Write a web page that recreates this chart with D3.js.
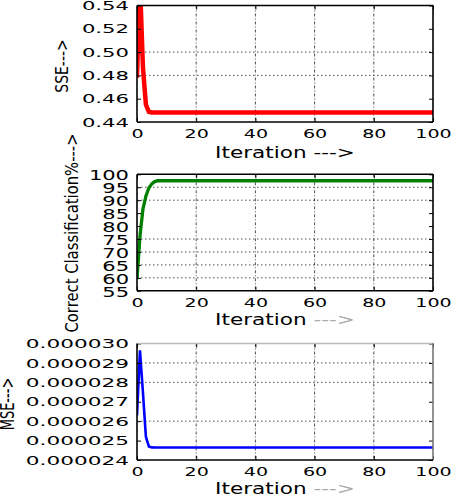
<!DOCTYPE html>
<html><head><meta charset="utf-8">
<script src="https://cdn.jsdelivr.net/npm/d3@7"></script>
<style>body{margin:0;background:#fff}svg{display:block}</style>
</head><body>
<svg id="c" width="452" height="494"></svg>
<script>
// ---- data ----
const xTicks = [0, 20, 40, 60, 80, 100];

const sseIter = [0, 1, 2, 3, 4, 5, 100];
const sseVals = [0.478, 0.56, 0.487, 0.455, 0.4488, 0.4482, 0.4482];
const sseTicks = [0.44, 0.46, 0.48, 0.50, 0.52, 0.54];
const sseGrid = [0.48, 0.50];

const ccIter = [0, 1, 2, 3, 4, 5, 6, 7, 100];
const ccVals = [59.5, 76, 86.5, 91.5, 94.7, 96.3, 97.2, 97.5, 97.5];
const ccTicks = [55, 60, 65, 70, 75, 80, 85, 90, 95, 100];
const ccGrid = [60, 65, 70, 75, 90, 95];

const mseIter = [0, 1, 2, 3, 4, 5, 6, 100];
const mseVals = [0.0000263, 0.00002965, 0.0000275, 0.0000252, 0.0000247, 0.00002465, 0.00002464, 0.00002464];
const mseTicks = [0.000024, 0.000025, 0.000026, 0.000027, 0.000028, 0.000029, 0.000030];
const mseGrid = [0.000026, 0.000028, 0.000029];

const panels = [
  {iter: sseIter, vals: sseVals, ticks: sseTicks, grid: sseGrid, dom: [0.44, 0.54], fmt: d3.format(".2f"),
   top: 5.5, color: "#ff0000", lw: 4.5, ylab: "SSE--->", ylabX: 62, ylabY: 66, ylabFs: 14, ylabSx: 1.3,
   yFs: 11.5, ySx: 1.84, xFs: 12.3, xSx: 1.55, titleY: 152, dashCol: "#000", frameTop: "#000", frameRight: "#000"},
  {iter: ccIter, vals: ccVals, ticks: ccTicks, grid: ccGrid, dom: [55, 100], fmt: d3.format("d"),
   top: 174.3, color: "#008000", lw: 3.3, ylab: "Correct Classification%--->", ylabX: 71.5, ylabY: 233, ylabFs: 14.8, ylabSx: 1.25,
   yFs: 14.5, ySx: 1.45, xFs: 12.3, xSx: 1.55, titleY: 319, dashCol: "#aaa", frameTop: "#000", frameRight: "#000"},
  {iter: mseIter, vals: mseVals, ticks: mseTicks, grid: mseGrid, dom: [0.000024, 0.000030], fmt: d3.format(".6f"),
   top: 343.5, color: "#0000ff", lw: 2.6, ylab: "MSE--->", ylabX: 7.5, ylabY: 404, ylabFs: 13, ylabSx: 1.45,
   yFs: 12.3, ySx: 1.76, xFs: 12.3, xSx: 1.55, titleY: 488, dashCol: "#aaa", frameTop: "#bbb", frameRight: "#777"}
];

const svg = d3.select("#c");
const FONT = "DejaVu Sans";
const L = 137, R = 433, H = 116.5;
const x = d3.scaleLinear().domain([0, 100]).range([L, R]);

function stretch(sel, sx, fs) {
  sel.selectAll("text").attr("font-size", fs).attr("font-family", FONT).attr("fill", "#000")
    .each(function () {
      const t = d3.select(this);
      const tx = +t.attr("x") || 0, ty = +t.attr("y") || 0;
      t.attr("x", 0).attr("y", 0).attr("transform", `translate(${tx},${ty}) scale(${sx},1)`);
    });
}

panels.forEach((p, i) => {
  const top = p.top, bot = p.top + H;
  const y = d3.scaleLinear().domain(p.dom).range([bot, top]);
  const g = svg.append("g");

  // clip
  const cid = "clip" + i;
  svg.append("clipPath").attr("id", cid).append("rect").attr("x", L).attr("y", top).attr("width", R - L).attr("height", H);

  // grid
  g.selectAll(".gy").data(p.grid).join("line")
    .attr("x1", L).attr("x2", R).attr("y1", d => y(d)).attr("y2", d => y(d))
    .attr("stroke", "#222").attr("stroke-width", 0.8).attr("stroke-dasharray", "1.5,2.5");
  g.selectAll(".gx").data(xTicks.slice(1, -1)).join("line")
    .attr("x1", d => x(d)).attr("x2", d => x(d)).attr("y1", top).attr("y2", bot)
    .attr("stroke", "#222").attr("stroke-width", 0.8).attr("stroke-dasharray", "3,2,1,2");

  // line
  const pts = p.iter.map((it, k) => [it, p.vals[k]]);
  g.append("path").datum(pts).attr("clip-path", `url(#${cid})`)
    .attr("fill", "none").attr("stroke", p.color).attr("stroke-width", p.lw)
    .attr("stroke-linejoin", "miter")
    .attr("d", d3.line().x(d => x(d[0])).y(d => y(d[1])));

  // axes (inward ticks)
  const ax = g.append("g").attr("transform", `translate(${L},0)`)
    .call(d3.axisLeft(y).tickValues(p.ticks).tickFormat(p.fmt).tickSize(-4).tickPadding(8));
  ax.select(".domain").remove();
  ax.selectAll("line").attr("stroke", "#000");
  stretch(ax, p.ySx, p.yFs);
  ax.selectAll("text").attr("dy", null).attr("dominant-baseline", "central");

  const axr = g.append("g").attr("transform", `translate(${R},0)`)
    .call(d3.axisRight(y).tickValues(p.ticks).tickFormat("").tickSize(-4));
  axr.select(".domain").remove();

  const bx = g.append("g").attr("transform", `translate(0,${bot})`)
    .call(d3.axisBottom(x).tickValues(xTicks).tickSize(-4).tickPadding(7));
  bx.select(".domain").remove();
  stretch(bx, p.xSx, p.xFs);
  bx.selectAll("text").attr("dy", "0.71em");

  const tx = g.append("g").attr("transform", `translate(0,${top})`)
    .call(d3.axisTop(x).tickValues(xTicks).tickFormat("").tickSize(-4));
  tx.select(".domain").remove();

  // frame
  g.append("line").attr("x1", L).attr("x2", R).attr("y1", top).attr("y2", top).attr("stroke", p.frameTop).attr("stroke-width", 1.6);
  g.append("line").attr("x1", R).attr("x2", R).attr("y1", top).attr("y2", bot).attr("stroke", p.frameRight).attr("stroke-width", 1.6);
  g.append("line").attr("x1", L).attr("x2", R).attr("y1", bot).attr("y2", bot).attr("stroke", "#000").attr("stroke-width", 1.6);
  g.append("line").attr("x1", L).attr("x2", L).attr("y1", top).attr("y2", bot).attr("stroke", "#000").attr("stroke-width", 1.6);

  // x title
  const xt = g.append("text").attr("text-anchor", "middle").attr("dominant-baseline", "central")
    .attr("font-family", FONT).attr("font-size", 15)
    .attr("transform", `translate(${(L + R) / 2},${p.titleY}) scale(1.44,1)`);
  xt.append("tspan").text("Iteration ");
  xt.append("tspan").attr("fill", p.dashCol).text("--->");

  // y title
  g.append("text").attr("text-anchor", "middle").attr("dominant-baseline", "central")
    .attr("font-family", FONT).attr("font-size", p.ylabFs)
    .attr("transform", `translate(${p.ylabX},${p.ylabY}) scale(${p.ylabSx},1) rotate(-90)`)
    .text(p.ylab);
});
</script>
</body></html>
